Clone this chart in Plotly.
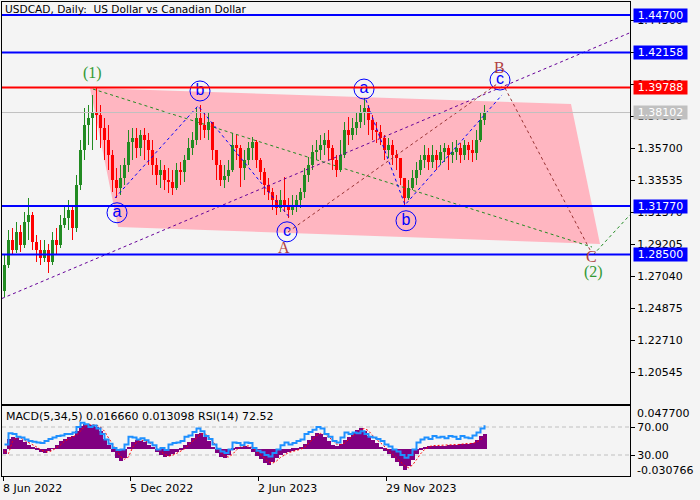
import plotly.graph_objects as go

# ---------------- data (one value per 4 daily bars) ----------------
first_open = 1.2600
close = [1.2779, 1.2948, 1.2880, 1.3002, 1.2914, 1.3069, 1.3117, 1.2934, 1.2880, 1.2826,
         1.2880, 1.2799, 1.2948, 1.2914, 1.3049, 1.3096, 1.3151, 1.3029, 1.3320, 1.3557,
         1.3726, 1.3773, 1.3814, 1.3793, 1.3705, 1.3624, 1.3523, 1.3354, 1.3300, 1.3367,
         1.3455, 1.3611, 1.3638, 1.3570, 1.3658, 1.3624, 1.3557, 1.3455, 1.3387, 1.3421,
         1.3354, 1.3340, 1.3300, 1.3421, 1.3408, 1.3489, 1.3570, 1.3624, 1.3773, 1.3726,
         1.3692, 1.3746, 1.3557, 1.3455, 1.3354, 1.3381, 1.3421, 1.3590, 1.3570, 1.3435,
         1.3489, 1.3570, 1.3611, 1.3489, 1.3408, 1.3320, 1.3272, 1.3218, 1.3164, 1.3218,
         1.3184, 1.3151, 1.3184, 1.3218, 1.3272, 1.3387, 1.3455, 1.3543, 1.3557, 1.3590,
         1.3624, 1.3570, 1.3489, 1.3421, 1.3523, 1.3692, 1.3658, 1.3705, 1.3746, 1.3814,
         1.3841, 1.3760, 1.3692, 1.3678, 1.3638, 1.3557, 1.3590, 1.3523, 1.3502, 1.3367,
         1.3232, 1.3300, 1.3367, 1.3421, 1.3489, 1.3523, 1.3475, 1.3523, 1.3489, 1.3543,
         1.3570, 1.3523, 1.3543, 1.3570, 1.3523, 1.3590, 1.3557, 1.3536, 1.3624, 1.3760,
         1.38102]
high = [1.2846, 1.3015, 1.3029, 1.3069, 1.3049, 1.3137, 1.3232, 1.3137, 1.2982, 1.2948,
        1.2948, 1.2921, 1.3002, 1.3029, 1.3117, 1.3184, 1.3218, 1.3184, 1.3387, 1.3624,
        1.3841, 1.3861, 1.3929, 1.3983, 1.3861, 1.3773, 1.3726, 1.3557, 1.3435, 1.3455,
        1.3502, 1.3692, 1.3705, 1.3705, 1.3692, 1.3705, 1.3672, 1.3624, 1.3502, 1.3489,
        1.3455, 1.3435, 1.3421, 1.3469, 1.3475, 1.3523, 1.3638, 1.3678, 1.3841, 1.3861,
        1.3814, 1.3807, 1.3658, 1.3557, 1.3489, 1.3455, 1.3489, 1.3672, 1.3658, 1.3590,
        1.3557, 1.3611, 1.3645, 1.3624, 1.3502, 1.3435, 1.3367, 1.3300, 1.3252, 1.3286,
        1.3374, 1.3232, 1.3252, 1.3252, 1.3300, 1.3435, 1.3509, 1.3590, 1.3624, 1.3658,
        1.3672, 1.3692, 1.3590, 1.3523, 1.3624, 1.3746, 1.3780, 1.3773, 1.3814, 1.3861,
        1.3908, 1.3861, 1.3793, 1.3746, 1.3726, 1.3658, 1.3638, 1.3624, 1.3557, 1.3489,
        1.3354, 1.3354, 1.3421, 1.3475, 1.3523, 1.3590, 1.3570, 1.3590, 1.3557, 1.3590,
        1.3604, 1.3590, 1.3611, 1.3624, 1.3604, 1.3624, 1.3611, 1.3624, 1.3692, 1.3814,
        1.3861]
low = [1.2562, 1.2758, 1.2846, 1.2860, 1.2866, 1.2894, 1.2948, 1.2880, 1.2799, 1.2779,
       1.2799, 1.2724, 1.2779, 1.2846, 1.2894, 1.3029, 1.3015, 1.2948, 1.3002, 1.3286,
       1.3489, 1.3590, 1.3557, 1.3624, 1.3570, 1.3489, 1.3421, 1.3272, 1.3232, 1.3252,
       1.3320, 1.3408, 1.3489, 1.3502, 1.3516, 1.3489, 1.3455, 1.3387, 1.3320, 1.3300,
       1.3286, 1.3266, 1.3252, 1.3286, 1.3320, 1.3340, 1.3489, 1.3523, 1.3590, 1.3624,
       1.3638, 1.3624, 1.3489, 1.3354, 1.3313, 1.3300, 1.3340, 1.3408, 1.3489, 1.3306,
       1.3354, 1.3455, 1.3489, 1.3435, 1.3354, 1.3252, 1.3218, 1.3151, 1.3117, 1.3137,
       1.3137, 1.3096, 1.3117, 1.3137, 1.3164, 1.3232, 1.3340, 1.3421, 1.3489, 1.3489,
       1.3523, 1.3489, 1.3421, 1.3374, 1.3408, 1.3502, 1.3590, 1.3624, 1.3658, 1.3705,
       1.3726, 1.3658, 1.3624, 1.3604, 1.3590, 1.3489, 1.3502, 1.3455, 1.3421, 1.3320,
       1.3184, 1.3218, 1.3286, 1.3320, 1.3387, 1.3435, 1.3421, 1.3435, 1.3421, 1.3455,
       1.3475, 1.3421, 1.3469, 1.3489, 1.3469, 1.3489, 1.3489, 1.3475, 1.3489, 1.3611,
       1.3726]
macd = [-0.0056, 0.0112, 0.0135, 0.0123, 0.0101, 0.0078, 0.0045, 0.0022, -0.0011, -0.0034,
        -0.0045, -0.0022, 0.0005, 0.0045, 0.0090, 0.0112, 0.0135, 0.0146, 0.0202, 0.0258,
        0.0280, 0.0269, 0.0269, 0.0247, 0.0202, 0.0112, 0.0045, -0.0034, -0.0101, -0.0135,
        -0.0101, 0.0022, 0.0078, 0.0101, 0.0090, 0.0078, 0.0045, 0.0011, -0.0034, -0.0067,
        -0.0090, -0.0078, -0.0056, -0.0034, -0.0011, 0.0045, 0.0078, 0.0123, 0.0168, 0.0179,
        0.0135, 0.0090, 0.0022, -0.0045, -0.0090, -0.0101, -0.0067, -0.0011, 0.0022, 0.0022,
        0.0034, 0.0011, -0.0034, -0.0078, -0.0112, -0.0157, -0.0179, -0.0146, -0.0101, -0.0067,
        -0.0045, -0.0034, -0.0022, -0.0011, 0.0011, 0.0056, 0.0101, 0.0146, 0.0179, 0.0168,
        0.0135, 0.0090, 0.0045, 0.0034, 0.0056, 0.0101, 0.0135, 0.0179, 0.0213, 0.0235,
        0.0202, 0.0146, 0.0101, 0.0067, 0.0022, -0.0022, -0.0056, -0.0101, -0.0146, -0.0191,
        -0.0235, -0.0191, -0.0123, -0.0056, -0.0011, 0.0022, 0.0034, 0.0034, 0.0034, 0.0034,
        0.0034, 0.0045, 0.0045, 0.0045, 0.0056, 0.0056, 0.0056, 0.0067, 0.0101, 0.0146,
        0.016660]
signal = [-0.0030, -0.0056, 0.0080, 0.0125, 0.0118, 0.0095, 0.0070, 0.0042, 0.0018, -0.0012,
          -0.0032, -0.0040, -0.0020, 0.0010, 0.0040, 0.0082, 0.0108, 0.0130, 0.0150, 0.0195,
          0.0245, 0.0270, 0.0270, 0.0262, 0.0240, 0.0195, 0.0120, 0.0050, -0.0025, -0.0090,
          -0.0120, -0.0095, 0.0010, 0.0070, 0.0095, 0.0088, 0.0072, 0.0042, 0.0010, -0.0030,
          -0.0063, -0.0085, -0.0075, -0.0055, -0.0033, -0.0005, 0.0040, 0.0078, 0.0120, 0.0160,
          0.0170, 0.0135, 0.0085, 0.0025, -0.0040, -0.0085, -0.0095, -0.0065, -0.0015, 0.0018,
          0.0025, 0.0030, 0.0010, -0.0032, -0.0075, -0.0110, -0.0150, -0.0165, -0.0140, -0.0100,
          -0.0068, -0.0046, -0.0033, -0.0022, -0.0008, 0.0012, 0.0055, 0.0100, 0.0145, 0.0170,
          0.0160, 0.0132, 0.0090, 0.0050, 0.0045, 0.0060, 0.0100, 0.0135, 0.0175, 0.0210,
          0.0225, 0.0200, 0.0148, 0.0100, 0.0065, 0.0022, -0.0020, -0.0055, -0.0100, -0.0145,
          -0.0190, -0.0215, -0.0185, -0.0125, -0.0060, -0.0012, 0.0020, 0.0032, 0.0034, 0.0034,
          0.0034, 0.0036, 0.0043, 0.0045, 0.0047, 0.0054, 0.0056, 0.0058, 0.0070, 0.0101,
          0.013098]
rsi = [45, 61, 60, 56, 55, 52, 50, 49, 48, 47,
       50, 53, 55, 57, 58, 60, 60, 62, 70, 76,
       74, 70, 72, 68, 60, 52, 46, 40, 37, 38,
       45, 56, 55, 52, 54, 51, 48, 44, 38, 40,
       37, 45, 47, 48, 50, 56, 58, 63, 68, 64,
       57, 53, 45, 39, 35, 33, 38, 48, 47, 44,
       48, 47, 40, 36, 34, 30, 28, 33, 38, 44,
       48, 45, 47, 50, 52, 60, 63, 66, 70, 68,
       60, 56, 50, 48, 55, 62, 60, 62, 61, 64,
       60, 56, 55, 53, 50, 45, 42, 38, 35, 30,
       26, 30, 38, 48, 52, 55, 53, 57, 55, 56,
       54, 57, 56, 53, 57, 55, 54, 58, 62, 68,
       72.52]

price_ticks = [1.20545, 1.22710, 1.24875, 1.27040, 1.29205, 1.31370,
               1.33535, 1.35700, 1.37865, 1.40030, 1.42195, 1.44360]
date_ticks = [0, 127, 255, 383]          # bar index of each date label
date_labels = ["8 Jun 2022", "5 Dec 2022", "2 Jun 2023", "29 Nov 2023"]
level_prices = [1.44700, 1.42158, 1.39788, 1.38102, 1.31770, 1.28500]
level_colors = ["#0000FF", "#0000FF", "#FF0000", "#C0C0C0", "#0000FF", "#0000FF"]

# chart objects anchored at (bar index, price)
channel = [(87, 1.3976), (568, 1.3868), (597, 1.2921), (115, 1.3036)]
trend_lines = [
    ([-1, 627], [1.2552, 1.4350], "#660099"),
    ([90, 589], [1.3969, 1.2900], "#228B22"),
    ([590, 627], [1.2846, 1.3118], "#228B22"),
    ([112, 195, 287], [1.3232, 1.3855, 1.3097], "#0000FF"),
    ([363, 402, 499], [1.3895, 1.3185, 1.3929], "#0000FF"),
    ([285, 494], [1.3002, 1.4003], "#993333"),
    ([502, 587], [1.3976, 1.2881], "#993333"),
]
wave_labels = [("(1)", 89, 1.4078, "#339933"), ("(2)", 590, 1.2731, "#339933"),
               ("B", 496, 1.4118, "#B04040"), ("A", 281, 1.2900, "#B04040"),
               ("C", 588, 1.2839, "#B04040")]
circ_text = ["b", "a", "c", "a", "b", "c"]
circ_x = [197, 114, 284, 361, 403, 497]
circ_p = [1.3956, 1.3132, 1.3003, 1.3969, 1.3078, 1.4030]

# ---------------- figure ----------------
GROUP = 4
xs = [GROUP * k + 1.5 for k in range(len(close))]
opens = [first_open] + close[:-1]
cols = ["#228B22" if c >= o else "#FF0000" for o, c in zip(opens, close)]
body_base = [min(o, c) for o, c in zip(opens, close)]
body_h = [max(abs(c - o), 0.0004) for o, c in zip(opens, close)]
wick_base = [min(l, o, c) for l, o, c in zip(low, opens, close)]
wick_h = [max(h, o, c) - b for h, o, c, b in zip(high, opens, close, wick_base)]

FONT = "DejaVu Sans"
fig = go.Figure()

fig.add_trace(go.Bar(x=xs, y=wick_h, base=wick_base, width=1, marker_color=cols,
                     marker_line_width=0, xaxis="x", yaxis="y", showlegend=False))
fig.add_trace(go.Bar(x=xs, y=body_h, base=body_base, width=2.6, marker_color=cols,
                     marker_line_width=0, xaxis="x", yaxis="y", showlegend=False))

for tx, tp, tc in trend_lines:
    fig.add_trace(go.Scatter(x=tx, y=tp, mode="lines", xaxis="x", yaxis="y",
                             line=dict(color=tc, width=1, dash="3px,3px"),
                             showlegend=False, hoverinfo="skip"))

fig.add_trace(go.Scatter(x=circ_x, y=circ_p, mode="markers+text", text=circ_text,
                         textposition="middle center",
                         textfont=dict(family="Liberation Sans", size=16, color="#0000FF"),
                         marker=dict(symbol="circle-open", size=20, color="#0000FF",
                                     line=dict(width=1, color="#0000FF")),
                         xaxis="x", yaxis="y", showlegend=False, hoverinfo="skip"))

# MACD panel
fig.add_trace(go.Bar(x=xs, y=macd, width=GROUP, marker_color="#800080", marker_line_width=0,
                     xaxis="x2", yaxis="y2", showlegend=False))
fig.add_trace(go.Scatter(x=xs, y=signal, mode="lines", xaxis="x2", yaxis="y2",
                         line=dict(color="#FF0000", width=1, dash="2px,2px"), showlegend=False))
fig.add_trace(go.Scatter(x=xs, y=rsi, mode="lines", xaxis="x2", yaxis="y3",
                         line=dict(color="#1E90FF", width=2, shape="hv"), showlegend=False))

shapes = []
path = "M " + " L ".join(f"{x},{p}" for x, p in channel) + " Z"
shapes.append(dict(type="path", path=path, xref="x", yref="y", fillcolor="#FFB6C1",
                   line=dict(width=0), layer="below"))
for lp, lc in zip(level_prices, level_colors):
    shapes.append(dict(type="line", xref="paper", x0=2 / 700, x1=630 / 700, yref="y",
                       y0=lp, y1=lp, line=dict(color=lc, width=1 if lc == "#C0C0C0" else 2),
                       layer="above"))
for lvl in (30, 70):
    shapes.append(dict(type="line", xref="paper", x0=2 / 700, x1=630 / 700, yref="y3",
                       y0=lvl, y1=lvl, line=dict(color="#C0C0C0", width=1, dash="4px,3px"),
                       layer="below"))

ann = []
ann.append(dict(text="USDCAD, Daily:  US Dollar vs Canadian Dollar", xref="paper", yref="paper",
                x=3 / 700, y=1 - 9 / 500, xanchor="left", yanchor="middle", showarrow=False,
                font=dict(family=FONT, size=10.6, color="black")))
ann.append(dict(text="MACD(5,34,5) 0.016660 0.013098 RSI(14) 72.52", xref="paper",
                yref="paper", x=4 / 700, y=1 - 416 / 500, xanchor="left", yanchor="middle",
                showarrow=False, font=dict(family=FONT, size=11, color="black")))
for lp, lc in zip(level_prices, level_colors):
    ann.append(dict(text=f"{lp:.5f}", xref="paper", x=633 / 700, xanchor="left", yref="y",
                    y=lp, yanchor="middle", showarrow=False, bgcolor=lc, width=53, height=13,
                    borderpad=0, font=dict(family=FONT, size=11, color="white")))
for t, v in (("0.047700", 0.0477), ("-0.030766", -0.030766)):
    ann.append(dict(text=t, xref="paper", x=635 / 700, xanchor="left", yref="paper",
                    y=1 - (413 if v > 0 else 470) / 500, yanchor="middle", showarrow=False,
                    font=dict(family=FONT, size=11, color="black")))
for dt, dl in zip(date_ticks, date_labels):
    ann.append(dict(text=dl, xref="x2", x=dt, xanchor="left", yref="paper", y=1 - 488 / 500,
                    yanchor="middle", showarrow=False, xshift=-2,
                    font=dict(family=FONT, size=11, color="black")))
for t, x, p, c in wave_labels:
    ann.append(dict(text=t, xref="x", x=x, yref="y", y=p, showarrow=False,
                    xanchor="center", yanchor="middle",
                    font=dict(family="Liberation Serif", size=16, color=c)))

dom_x = [2 / 700, 630 / 700]
axis_common = dict(showgrid=False, zeroline=False, showline=True, mirror=True,
                   linecolor="black", linewidth=1)
fig.update_layout(
    width=700, height=500, margin=dict(l=0, r=0, t=0, b=0), autosize=False,
    paper_bgcolor="#F4F4F4", plot_bgcolor="#F4F4F4", barmode="overlay", bargap=0,
    shapes=shapes, annotations=ann,
    xaxis=dict(domain=dom_x, range=[-1, 627], anchor="y", showticklabels=False,
               ticks="", **axis_common),
    yaxis=dict(domain=[1 - 404 / 500, 1 - 2 / 500], range=[1.18380, 1.45580], anchor="x",
               side="right", tickvals=price_ticks, ticktext=[f"{v:.5f}" for v in price_ticks],
               ticks="outside", ticklen=4, tickcolor="black",
               tickfont=dict(family=FONT, size=11, color="black"), **axis_common),
    xaxis2=dict(domain=dom_x, range=[-1, 627], anchor="y2", tickvals=date_ticks,
                showticklabels=False, ticks="outside", ticklen=4, tickcolor="black",
                **axis_common),
    yaxis2=dict(domain=[1 - 476 / 500, 1 - 406 / 500], range=[-0.030766, 0.0477],
                anchor="x2", side="right", showticklabels=False, ticks="", **axis_common),
    yaxis3=dict(overlaying="y2", anchor="x2", side="right", range=[0, 100],
                tickvals=[30, 70], ticktext=["30.00", "70.00"], ticks="outside", ticklen=4,
                tickcolor="black", tickfont=dict(family=FONT, size=11, color="black"),
                showgrid=False, zeroline=False),
)

fig.write_html("out.html", config={"displayModeBar": False},
               post_script="document.body.style.margin='0px';"
                           "document.body.style.background='#F4F4F4';")
